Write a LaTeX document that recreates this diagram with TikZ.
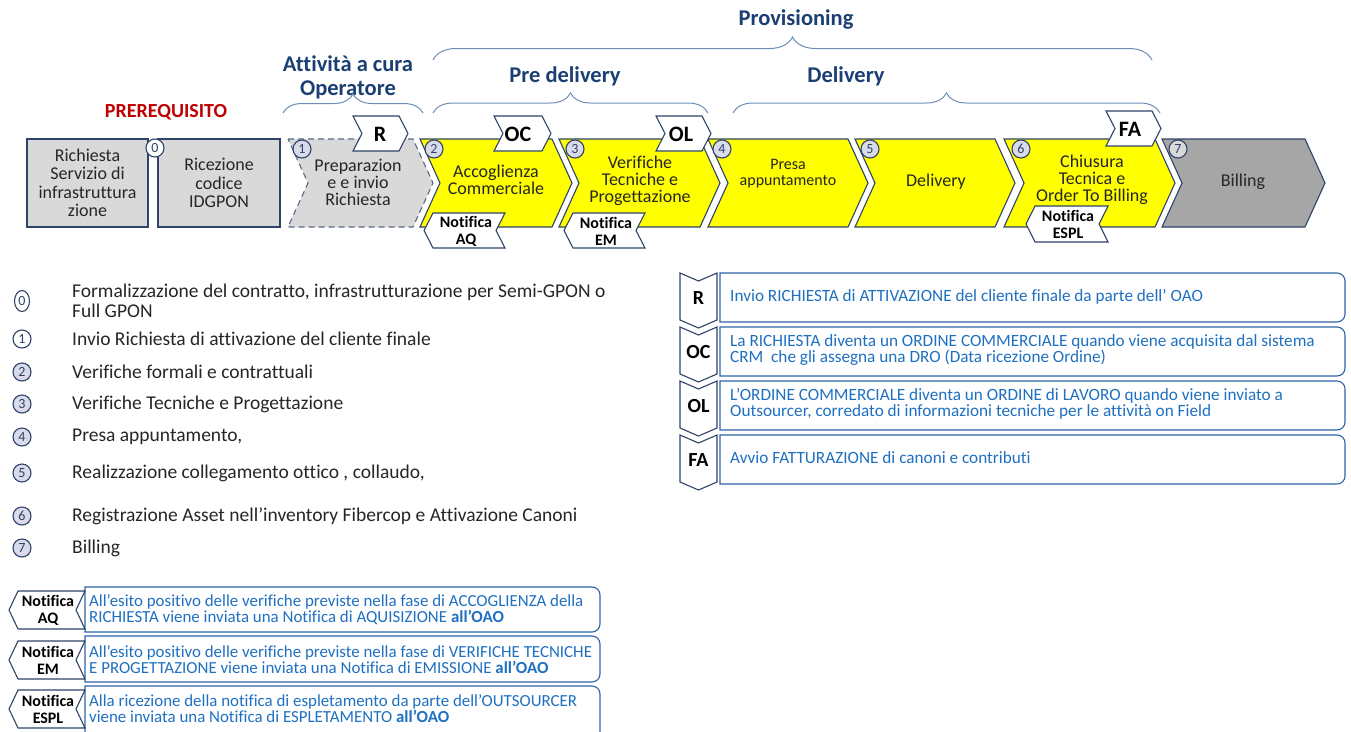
\documentclass[tikz,border=0pt]{standalone}
\usepackage{fontspec}
\setmainfont{Carlito}[Ligatures=NoCommon]
\usetikzlibrary{positioning, shapes.geometric, decorations.pathreplacing}
\definecolor{titleblue}{HTML}{1B3F73}
\definecolor{prered}{HTML}{C00000}
\definecolor{navyline}{HTML}{2F4468}
\definecolor{faseyellow}{HTML}{FFFF00}
\definecolor{fasegray}{HTML}{D9D9D9}
\definecolor{billgray}{HTML}{A6A6A6}
\definecolor{numfill}{HTML}{D9DAEA}
\definecolor{legblue}{HTML}{1F70C1}
\definecolor{legline}{HTML}{2E63A6}
\definecolor{bracecol}{HTML}{6D8DB5}
\definecolor{testo}{HTML}{262626}
\tikzstyle{fase} = [draw=navyline, line width=1.1pt, fill=faseyellow]
\tikzstyle{fasetext} = [align=center, text=testo, inner sep=0pt, font=\fontsize{18}{17}\selectfont]
\tikzstyle{prebox} = [rectangle, draw=navyline, line width=1.1pt, fill=fasegray, minimum height=88pt,
align=center, text=testo, font=\fontsize{18}{18.5}\selectfont]
\tikzstyle{etichetta} = [draw=navyline, line width=1.1pt, fill=white]
\tikzstyle{tagtext} = [font=\fontsize{22}{22}\selectfont\bfseries, text=black, inner sep=0pt]
\tikzstyle{notitext} = [align=center, font=\fontsize{16}{17}\selectfont\bfseries, text=black, inner sep=0pt]
\tikzstyle{numero} = [circle, draw=navyline, line width=1.1pt, fill=numfill, minimum size=18pt,
inner sep=0pt, text=navyline, font=\fontsize{14}{14}\selectfont]
\tikzstyle{titolo} = [font=\fontsize{22.5}{24}\selectfont\bfseries, text=titleblue, align=center]
\tikzstyle{legtext} = [anchor=west, text=testo, inner sep=0pt, align=left, font=\fontsize{19.5}{20}\selectfont]
\tikzstyle{blutext} = [anchor=west, text=legblue, inner sep=0pt, align=left, font=\fontsize{17.2}{16}\selectfont]
\tikzstyle{legbox} = [draw=legline, line width=1.1pt, fill=white]
\tikzset{graffa/.style={decorate, decoration={brace, amplitude=#1}, draw=bracecol, line width=1pt}}
% fase a freccia: sinistra, destra
\newcommand{\fase}[3][]{\draw[fase,#1] (#2,139) -- (#3,139) -- ({#3+20},183) -- (#3,227) -- (#2,227) -- ({#2+20},183) -- cycle;}
% etichetta verso destra / sinistra: sinistra, destra, alto, basso
\newcommand{\tagdx}[4]{\draw[etichetta] (#1,#3) -- (#2,#3) -- ({#2+9},{(#3+#4)/2}) -- (#2,#4) -- (#1,#4) -- ({#1+9},{(#3+#4)/2}) -- cycle;}
\newcommand{\tagsx}[4]{\draw[etichetta] (#1,#3) -- (#2,#3) -- ({#2-9},{(#3+#4)/2}) -- (#2,#4) -- (#1,#4) -- ({#1-9},{(#3+#4)/2}) -- cycle;}
% etichetta verso il basso
\newcommand{\taggiu}[1]{\draw[etichetta] (680,#1) -- (698.5,{#1+8}) -- (717,#1) -- (717,{#1+47}) -- (698.5,{#1+55}) -- (680,{#1+47}) -- cycle;}
% riquadro legenda: sinistra, alto, destra, basso
\newcommand{\legbox}[4]{\draw[legbox] (#1,#4) -- (#1,#2) -- ({#3-8},#2) to[out=0,in=90] (#3,{#2+8}) -- (#3,{#4-8}) to[out=-90,in=0] ({#3-8},#4) -- cycle;}

\begin{document}
\begin{tikzpicture}[x=1pt, y=-1pt]
\useasboundingbox (0,0) rectangle (1351,731);

% titoli e graffe
\node[titolo] (prov) at (796,20) {Provisioning};
\node[titolo] (predel) at (565,76) {Pre delivery};
\node[titolo] (deliv) at (846,76) {Delivery};
\node[titolo] (operat) at (348,77) {Attività a cura\\Operatore};
\node[titolo, font=\fontsize{20}{24}\selectfont\bfseries, text=prered] (prereq) at (166,112) {PREREQUISITO};
\draw[graffa=23pt] (433,60) -- (1152,60);
\draw[graffa=19pt] (283,113) -- (423,113);
\draw[graffa=20pt] (433,113) -- (708,113);
\draw[graffa=20pt] (733,113) -- (1160,113);

% prerequisito
\node[prebox, minimum width=121pt] (f0) at (87.5,183) {Richiesta\\Servizio di\\infrastruttura\\zione};
\node[prebox, minimum width=122pt] (f0b) at (219,183) {Ricezione\\codice\\IDGPON};

% fasi
\fase[fill=fasegray, draw=navyline!80, dash pattern=on 6pt off 4pt]{288}{413}
\fase{420}{552}
\fase{559}{700}
\fase{708}{848}
\fase{855}{995}
\fase{1004}{1155}
\fase[fill=billgray]{1162}{1305}
\node[fasetext] (f1) at (358,182) {Preparazion\\e e invio\\Richiesta};
\node[fasetext] (f2) at (496,180) {Accoglienza\\Commerciale};
\node[fasetext] (f3) at (640,181) {Verifiche\\Tecniche e\\Progettazione};
\node[fasetext, font=\fontsize{16}{16}\selectfont] (f4) at (788,174) {Presa\\appuntamento};
\node[fasetext] (f5) at (936,182) {Delivery};
\node[fasetext] (f6) at (1092,180) {Chiusura\\Tecnica e\\Order To Billing};
\node[fasetext] (f7) at (1243,182) {Billing};

% etichette ordini
\tagdx{353}{399}{116}{151}
\node[tagtext] (tR) at (380,134) {R};
\tagdx{494}{542}{116}{151}
\node[tagtext] (tOC) at (518,134) {OC};
\tagdx{656}{702}{116}{151}
\node[tagtext] (tOL) at (681,134) {OL};
\tagdx{1106}{1152}{111}{146}
\node[tagtext] (tFA) at (1130,129) {FA};

% notifiche
\tagsx{433}{505}{213}{248}
\node[notitext] (nAQ) at (466,231) {Notifica\\AQ};
\tagsx{573}{645}{213}{248}
\node[notitext] (nEM) at (606,231) {Notifica\\EM};
\tagsx{1035}{1108}{206}{242}
\node[notitext] (nESPL) at (1068,224) {Notifica\\ESPL};

% numeri
\node[numero, fill=white] (n0) at (155,148) {0};
\node[numero] (n1) at (302,149) {1};
\node[numero] (n2) at (434,149) {2};
\node[numero] (n3) at (575,149) {3};
\node[numero] (n4) at (722,149) {4};
\node[numero] (n5) at (870,149) {5};
\node[numero] (n6) at (1021,149) {6};
\node[numero, fill=fasegray] (n7) at (1178,149) {7};

% legenda fasi
\node[numero, ellipse, minimum size=0pt, minimum width=15pt, minimum height=21pt, fill=white] (l0) at (22,301) {0};
\node[legtext] (lt0) at (72,301) {Formalizzazione del contratto, infrastrutturazione per Semi-GPON o\\Full GPON};
\foreach \n/\y/\c/\t in {1/339/white/{Invio Richiesta di attivazione del cliente finale},
  2/372/numfill/{Verifiche formali e contrattuali}, 3/404/numfill/{Verifiche Tecniche e Progettazione},
  4/437/numfill/{Presa appuntamento,}, 5/473/numfill/{Realizzazione collegamento ottico , collaudo,},
  6/516/numfill/{Registrazione Asset nell’inventory Fibercop e Attivazione Canoni}, 7/548/numfill/{Billing}}{
  \node[numero, fill=\c] (l\n) at (22,\y) {\n};
  \node[legtext] (lt\n) at (72,\y) {\t};
}

% legenda ordini
\foreach \y/\s in {273/R, 327/OC, 381/OL, 435/FA}{
  \taggiu{\y}
  \legbox{720}{\y}{1345}{\y+49}
  \node[tagtext, font=\fontsize{20}{20}\selectfont\bfseries] (g\s) at (698.5,\y+25) {\s};
}
\node[blutext] (dR) at (730,297) {Invio RICHIESTA di ATTIVAZIONE del cliente finale da parte dell’ OAO};
\node[blutext] (dOC) at (730,350) {La RICHIESTA diventa un ORDINE COMMERCIALE quando viene acquisita dal sistema\\CRM\ \ che gli assegna una DRO (Data ricezione Ordine)};
\node[blutext] (dOL) at (730,404) {L’ORDINE COMMERCIALE diventa un ORDINE di LAVORO quando viene inviato a\\Outsourcer, corredato di informazioni tecniche per le attività on Field};
\node[blutext] (dFA) at (730,458) {Avvio FATTURAZIONE di canoni e contributi};

% legenda notifiche
\legbox{85}{587}{600}{632}
\legbox{85}{636}{600}{682}
\legbox{85}{686}{600}{745}
\tagsx{18}{85}{591}{629}
\node[notitext] (mAQ) at (48,610) {Notifica\\AQ};
\tagsx{18}{85}{641}{679}
\node[notitext] (mEM) at (48,660) {Notifica\\EM};
\tagsx{18}{85}{690}{728}
\node[notitext] (mESPL) at (48,709) {Notifica\\ESPL};
\node[blutext, font=\fontsize{16.9}{16}\selectfont] (dAQ) at (89,610) {All’esito positivo delle verifiche previste nella fase di ACCOGLIENZA della\\RICHIESTA viene inviata una Notifica di AQUISIZIONE {\bfseries all’OAO}};
\node[blutext, font=\fontsize{16.9}{16}\selectfont] (dEM) at (89,660) {All’esito positivo delle verifiche previste nella fase di VERIFICHE TECNICHE\\E PROGETTAZIONE viene inviata una Notifica di EMISSIONE {\bfseries all’OAO}};
\node[blutext, font=\fontsize{16.9}{16}\selectfont] (dESPL) at (89,709) {Alla ricezione della notifica di espletamento da parte dell’OUTSOURCER\\viene inviata una Notifica di ESPLETAMENTO {\bfseries all’OAO}};
\end{tikzpicture}
\end{document}
